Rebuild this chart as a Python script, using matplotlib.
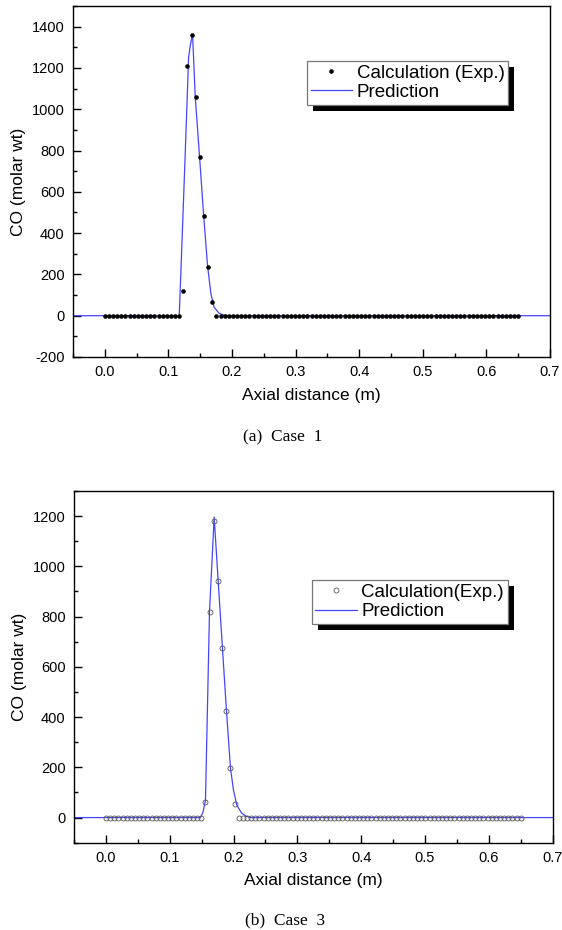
import numpy as np
import matplotlib
matplotlib.use("Agg")
import matplotlib.pyplot as plt
from matplotlib.patches import Rectangle
from matplotlib.ticker import MultipleLocator

plt.rcParams['font.family'] = ['Liberation Sans', 'DejaVu Sans']

# ---------------- data ----------------
x_step = 0.0065
exp_x = [round(i * x_step, 4) for i in range(101)]

exp1_y = [0] * 19 + [118, 1210, 1360, 1060, 767, 484, 234, 68] + [0] * 74
pred1_x = [-0.05, 0.117, 0.1195, 0.1245, 0.1295, 0.1317, 0.1345, 0.138, 0.1422,
           0.149, 0.1553, 0.1616, 0.1669, 0.172, 0.180, 0.188, 0.195, 0.70]
pred1_y = [0, 0, 200, 620, 1050, 1250, 1310, 1362, 1060,
           770, 490, 240, 105, 40, 11, 2, 0, 0]

exp3_y = [0] * 24 + [63, 820, 1180, 941, 674, 424, 196, 54] + [0] * 69
pred3_x = [-0.05, 0.148, 0.152, 0.156, 0.1623, 0.1696, 0.1759, 0.1826, 0.1889,
           0.1952, 0.1998, 0.205, 0.2125, 0.22, 0.2275, 0.70]
pred3_y = [0, 0, 20, 70, 820, 1196, 941, 674, 424,
           196, 110, 50, 18, 5, 0, 0]

x_ticks = [0.0, 0.1, 0.2, 0.3, 0.4, 0.5, 0.6, 0.7]
y1_ticks = [-200, 0, 200, 400, 600, 800, 1000, 1200, 1400]
y3_ticks = [0, 200, 400, 600, 800, 1000, 1200]

W, H = 562, 930
fig = plt.figure(figsize=(W / 100, H / 100), dpi=100)

def px_axes(l, r, t, b):
    return fig.add_axes([l / W, 1 - b / H, (r - l) / W, (b - t) / H])

ax1 = px_axes(73, 550, 6, 357)
ax3 = px_axes(74, 552.7, 491, 842.7)

line_color = '#4545ff'

ax1.plot(pred1_x, pred1_y, color=line_color, lw=0.9, label='Prediction', zorder=2)
ax1.plot(exp_x, exp1_y, 'o', color='black', ms=3.3, mew=0, label='Calculation (Exp.)', zorder=3)

ax3.plot(pred3_x, pred3_y, color=line_color, lw=0.9, label='Prediction', zorder=2)
ax3.plot(exp_x, exp3_y, 'o', mfc='none', mec='#555555', ms=3.6, mew=0.6,
         label='Calculation(Exp.)', zorder=3)

ax1.set_ylim(-200, 1500)
ax3.set_ylim(-100, 1300)
for ax, yt in ((ax1, y1_ticks), (ax3, y3_ticks)):
    ax.set_xlim(-0.05, 0.7)
    ax.set_xticks(x_ticks)
    ax.set_xticklabels([f'{v:.1f}' for v in x_ticks])
    ax.set_yticks(yt)
    ax.set_yticklabels([str(v) for v in yt])
    ax.xaxis.set_minor_locator(MultipleLocator(0.05))
    ax.yaxis.set_minor_locator(MultipleLocator(100))
    ax.tick_params(which='major', direction='in', length=6, width=1.0, labelsize=10.5,
                   top=False, right=False, pad=6)
    ax.tick_params(which='minor', direction='in', length=3, width=1.0,
                   top=False, right=False)
    for s in ax.spines.values():
        s.set_linewidth(1.0)
    ax.set_xlabel('Axial distance (m)', fontsize=12.5, labelpad=6)
    ax.set_ylabel('CO (molar wt)', fontsize=12.5, labelpad=4)

# legends
legend_kw = dict(loc='upper left', borderaxespad=0, fontsize=13.5, frameon=True,
                 fancybox=False, shadow=False, borderpad=0.2, labelspacing=0.12,
                 handlelength=2.2, handletextpad=0.25)
handles1, labels1 = ax1.get_legend_handles_labels()
leg1 = ax1.legend(handles1[::-1], labels1[::-1], bbox_to_anchor=(0.4906, 0.844), **legend_kw)
handles3, labels3 = ax3.get_legend_handles_labels()
leg3 = ax3.legend(handles3[::-1], labels3[::-1], bbox_to_anchor=(0.4965, 0.747), **legend_kw)
for leg in (leg1, leg3):
    fr = leg.get_frame()
    fr.set_edgecolor('#777777')
    fr.set_linewidth(0.9)
    fr.set_alpha(1)
    leg.set_zorder(10)

fig.canvas.draw()
for ax, leg in ((ax1, leg1), (ax3, leg3)):
    bb = leg.get_window_extent()
    off = 6
    rect = Rectangle(((bb.x0 + off) / W, (bb.y0 - off) / H), bb.width / W, bb.height / H,
                     transform=fig.transFigure, facecolor='black', edgecolor='none',
                     zorder=4, clip_on=False)
    ax.add_patch(rect)

# captions
fig.text(283 / W, 1 - 437 / H, '(a)  Case  1', ha='center', va='center', fontsize=12.5,
         family=['Liberation Serif', 'DejaVu Serif'])
fig.text(285 / W, 1 - 920 / H, '(b)  Case  3', ha='center', va='center', fontsize=12.5,
         family=['Liberation Serif', 'DejaVu Serif'])

fig.savefig('out.png', dpi=100)
